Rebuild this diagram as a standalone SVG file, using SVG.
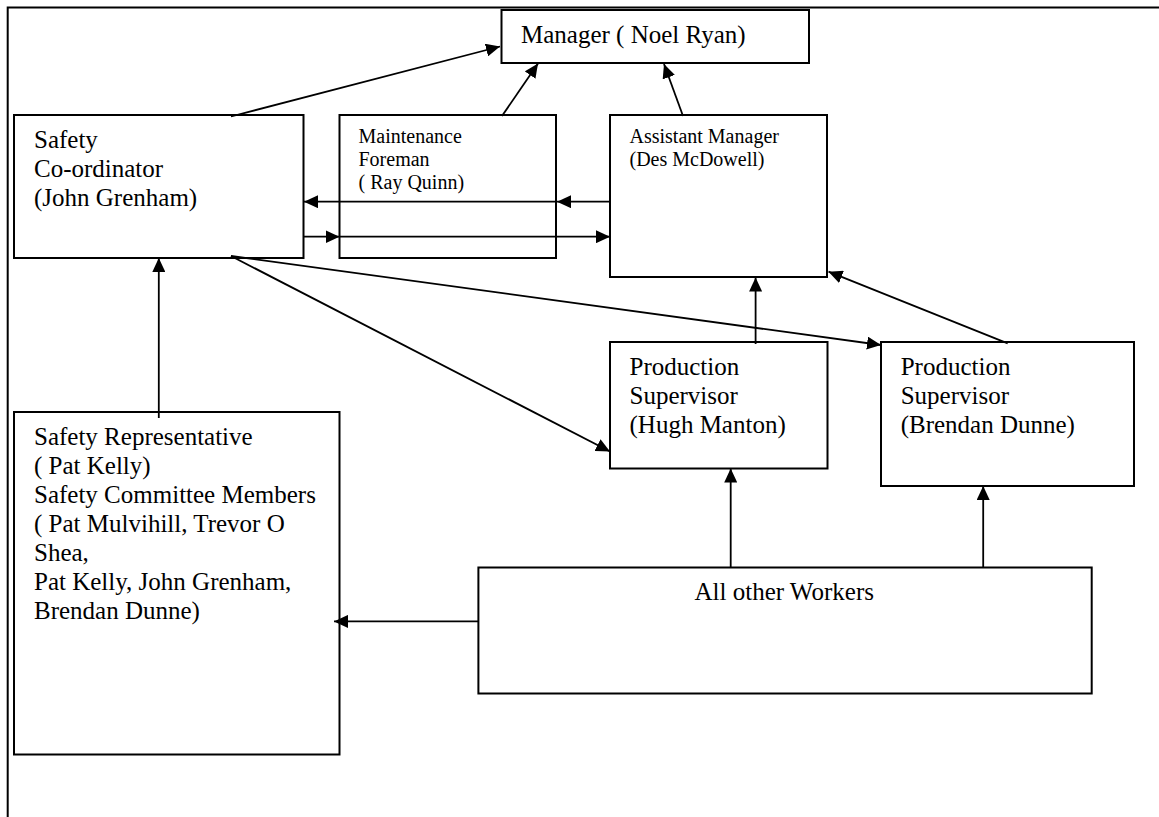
<svg xmlns="http://www.w3.org/2000/svg" width="1159" height="817" viewBox="0 0 1159 817">
<style>
.box{fill:#fff;stroke:#000;stroke-width:2}
.frame{stroke:#000;stroke-width:2;fill:none}
.c{stroke:#000;stroke-width:1.8;fill:none;marker-end:url(#ah)}
text{font-family:"Liberation Serif","Times New Roman",serif;fill:#000}
.t{font-size:25px}
.s{font-size:20px}
</style>
<defs>
<marker id="ah" markerUnits="userSpaceOnUse" markerWidth="15" markerHeight="13" refX="14" refY="6.5" orient="auto">
<path d="M0,0 L14,6.5 L0,13 z" fill="#000"/>
</marker>
</defs>
<rect width="1159" height="817" fill="#fff"/>
<g id="frame">
<path class="frame" d="M7.7,817 L7.7,7.5 L1159,7.5"/>
</g>
<g id="manager">
<rect class="box" x="501.5" y="10" width="307.5" height="53"/>
<text class="t" x="521" y="43">Manager ( Noel Ryan)</text>
</g>
<g id="safety-coordinator">
<rect class="box" x="14" y="115" width="289.5" height="143"/>
<text class="t" x="34" y="148">Safety</text>
<text class="t" x="34" y="177">Co-ordinator</text>
<text class="t" x="34" y="206">(John Grenham)</text>
</g>
<g id="maintenance-foreman">
<rect class="box" x="339.5" y="115" width="216.5" height="143"/>
<text class="s" x="358.5" y="143">Maintenance</text>
<text class="s" x="358.5" y="166">Foreman</text>
<text class="s" x="358.5" y="189">( Ray Quinn)</text>
</g>
<g id="assistant-manager">
<rect class="box" x="610" y="115" width="217" height="162"/>
<text class="s" x="629.5" y="143">Assistant Manager</text>
<text class="s" x="629.5" y="166">(Des McDowell)</text>
</g>
<g id="production-supervisor-hugh">
<rect class="box" x="610" y="342" width="217.5" height="126.5"/>
<text class="t" x="629.5" y="375">Production</text>
<text class="t" x="629.5" y="404">Supervisor</text>
<text class="t" x="629.5" y="433">(Hugh Manton)</text>
</g>
<g id="production-supervisor-brendan">
<rect class="box" x="881" y="342" width="253" height="144"/>
<text class="t" x="900.7" y="375">Production</text>
<text class="t" x="900.7" y="404">Supervisor</text>
<text class="t" x="900.7" y="433">(Brendan Dunne)</text>
</g>
<g id="safety-representative">
<rect class="box" x="14" y="412" width="325.5" height="342.5"/>
<text class="t" x="34" y="445">Safety Representative</text>
<text class="t" x="34" y="474">( Pat Kelly)</text>
<text class="t" x="34" y="503">Safety Committee Members</text>
<text class="t" x="34" y="532">( Pat Mulvihill, Trevor O</text>
<text class="t" x="34" y="561">Shea,</text>
<text class="t" x="34" y="590">Pat Kelly, John Grenham,</text>
<text class="t" x="34" y="619">Brendan Dunne)</text>
</g>
<g id="all-other-workers">
<rect class="box" x="478.4" y="567.5" width="613.3" height="126"/>
<text class="t" x="694.5" y="600">All other Workers</text>
</g>
<g id="connectors">
<line class="c" x1="231" y1="116.5" x2="500" y2="46.5"/>
<line class="c" x1="502" y1="116" x2="538" y2="63.5"/>
<line class="c" x1="683" y1="116" x2="664" y2="64"/>
<line class="c" x1="610" y1="201.7" x2="557" y2="201.7"/>
<line class="c" x1="557" y1="201.7" x2="304" y2="201.7"/>
<line class="c" x1="303.5" y1="236.7" x2="339.5" y2="236.7"/>
<line class="c" x1="339.5" y1="236.7" x2="610" y2="236.7"/>
<line class="c" x1="231" y1="256" x2="610" y2="451.5"/>
<line class="c" x1="231" y1="256" x2="881" y2="345"/>
<line class="c" x1="755.6" y1="344" x2="755.6" y2="277.5"/>
<line class="c" x1="1007.7" y1="343.3" x2="828.5" y2="271.7"/>
<line class="c" x1="158.8" y1="418" x2="158.8" y2="258"/>
<line class="c" x1="730.7" y1="567.5" x2="730.7" y2="468.5"/>
<line class="c" x1="983.2" y1="567.5" x2="983.2" y2="486"/>
<line class="c" x1="478.4" y1="621.4" x2="334" y2="621.4"/>
</g>
</svg>
